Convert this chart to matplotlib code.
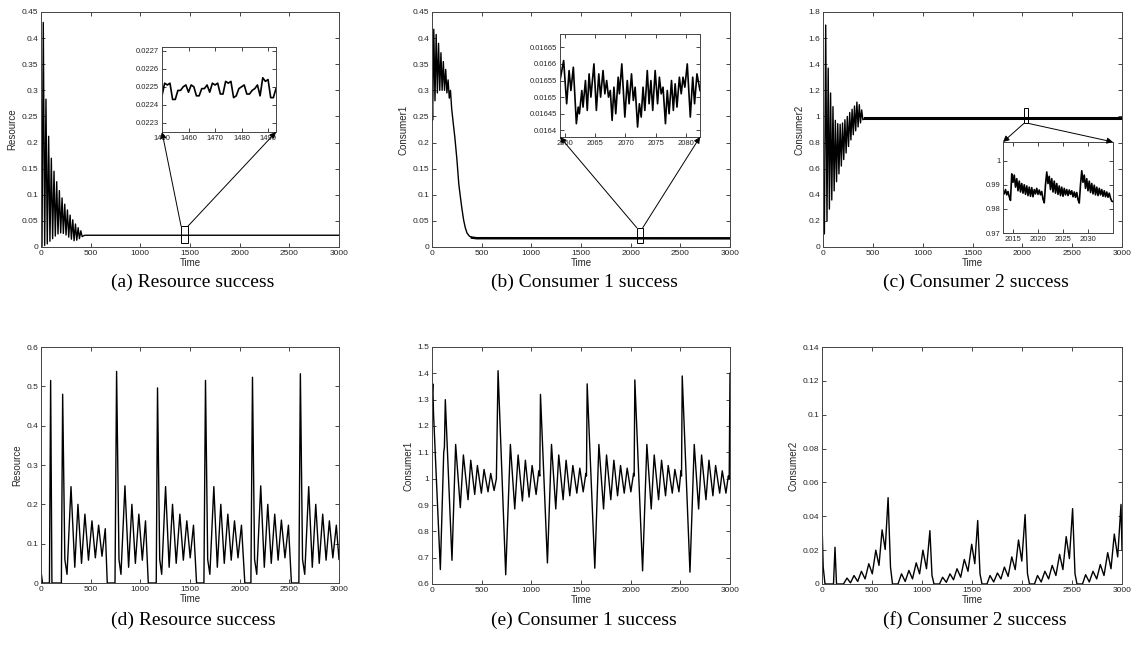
import numpy as np
import matplotlib
matplotlib.use("Agg")
import matplotlib.pyplot as plt
from matplotlib.patches import Rectangle, ConnectionPatch
from matplotlib.ticker import FuncFormatter

W, H = 1133, 656

# ---------------- data ----------------
time_ticks = [0, 500, 1000, 1500, 2000, 2500, 3000]

# (a) resource, transient then steady state
a_time = [0, 10, 23, 37, 50, 63, 77, 90, 104, 117, 131, 144, 158, 171, 185, 198,
          212, 225, 239, 252, 266, 279, 293, 306, 320, 333, 347, 360, 374, 387,
          401, 414, 440, 3000]
a_value = [0.0, 0.001, 0.43, 0.003, 0.283, 0.006, 0.212, 0.011, 0.170, 0.016,
           0.145, 0.021, 0.125, 0.025, 0.108, 0.027, 0.094, 0.026, 0.082, 0.023,
           0.071, 0.019, 0.061, 0.015, 0.052, 0.012, 0.044, 0.013, 0.037, 0.016,
           0.031, 0.02, 0.0225, 0.0225]
a_yticks = [0, 0.05, 0.1, 0.15, 0.2, 0.25, 0.3, 0.35, 0.4, 0.45]
a_zoom_start = 1450
a_zoom_value = [0.02245, 0.02252, 0.02251, 0.02252, 0.02243, 0.02243, 0.02248,
                0.02248, 0.0225, 0.02251, 0.02247, 0.02251, 0.0225, 0.02245,
                0.02245, 0.02249, 0.02249, 0.02251, 0.02247, 0.02252, 0.02251,
                0.02252, 0.02246, 0.02246, 0.02253, 0.02252, 0.02253, 0.02244,
                0.02245, 0.02249, 0.0225, 0.02251, 0.02246, 0.02246, 0.02248,
                0.02249, 0.02251, 0.02245, 0.02255, 0.02253, 0.02254, 0.02244,
                0.02244, 0.02249]
a_zoom_xticks = [1450, 1460, 1470, 1480, 1490]
a_zoom_yticks = [0.0223, 0.0224, 0.0225, 0.0226, 0.0227]

# (b) consumer 1
b_time = [0, 6, 18, 30, 42, 54, 66, 78, 90, 102, 114, 126, 138, 150, 162, 174,
          186, 198, 215, 230, 251, 270, 285, 300, 318, 335, 352, 375, 402, 450, 3000]
b_value = [0.30, 0.243, 0.417, 0.28, 0.407, 0.295, 0.39, 0.30, 0.372, 0.30, 0.355,
           0.30, 0.34, 0.295, 0.32, 0.285, 0.30, 0.265,
           0.235, 0.21, 0.167, 0.12, 0.097, 0.075, 0.052, 0.037, 0.027, 0.021,
           0.018, 0.0168, 0.0166]
b_zoom_time = [2059.2, 2059.8, 2060.3, 2060.7, 2061.0, 2061.4, 2061.9, 2062.2,
               2062.4, 2062.8, 2063.0, 2063.4, 2063.7, 2064.0, 2064.3, 2064.8,
               2065.2, 2065.6, 2065.9, 2066.3, 2066.6, 2066.9, 2067.2, 2067.5,
               2067.8, 2068.1, 2068.4, 2068.8, 2069.0, 2069.4, 2069.9, 2070.3,
               2070.6, 2071.0, 2071.3, 2071.6, 2072.0, 2072.3, 2072.6, 2072.9,
               2073.2, 2073.6, 2073.9, 2074.2, 2074.5, 2074.9, 2075.3, 2075.6,
               2075.9, 2076.2, 2076.6, 2076.9, 2077.2, 2077.6, 2077.9, 2078.2,
               2078.5, 2078.9, 2079.2, 2079.5, 2079.8, 2080.2, 2080.7, 2081.1,
               2081.4, 2081.8, 2082.3]
b_zoom_value = [0.01655, 0.01661, 0.01648, 0.01658, 0.01652, 0.01659, 0.01642,
                0.01647, 0.01645, 0.01652, 0.01647, 0.01655, 0.01646, 0.01657,
                0.0165, 0.0166, 0.01646, 0.01657, 0.0165, 0.01658, 0.01651,
                0.01655, 0.0165, 0.01652, 0.01643, 0.01653, 0.01645, 0.01656,
                0.01651, 0.0166, 0.01644, 0.01655, 0.01648, 0.01657, 0.01649,
                0.01653, 0.01641, 0.01648, 0.01644, 0.01653, 0.01646, 0.01658,
                0.01648, 0.01655, 0.01646, 0.01658, 0.01648, 0.01656, 0.01651,
                0.01653, 0.01642, 0.01652, 0.01645, 0.01655, 0.01646, 0.01654,
                0.01647, 0.01656, 0.01651, 0.01656, 0.01653, 0.0166, 0.01644,
                0.01656, 0.01648, 0.01657, 0.01652]
b_zoom_xticks = [2060, 2065, 2070, 2075, 2080]
b_zoom_yticks = [0.0164, 0.01645, 0.0165, 0.01655, 0.0166, 0.01665]

# (c) consumer 2
c_time = [0, 14, 27, 40, 52, 64, 76, 88, 100, 112, 124, 136, 148, 160, 172, 184,
          196, 208, 220, 232, 244, 256, 268, 280, 292, 304, 316, 328, 340, 352,
          364, 376, 388, 400, 420, 3000]
c_value = [0.25, 0.10, 1.70, 0.20, 1.37, 0.29, 1.18, 0.36, 1.075, 0.43, 0.97, 0.50,
           0.945, 0.56, 0.94, 0.62, 0.95, 0.67, 0.975, 0.72, 1.0, 0.77, 1.03, 0.82,
           1.055, 0.86, 1.08, 0.89, 1.11, 0.92, 1.09, 0.95, 1.05, 0.975, 0.985, 0.985]
c_yticks = [0, 0.2, 0.4, 0.6, 0.8, 1, 1.2, 1.4, 1.6, 1.8]
c_zoom_start = 2013
c_zoom_value = [0.9875, 0.9862, 0.9880, 0.9858, 0.9872, 0.9850, 0.9835,
                0.9945, 0.9910, 0.9940, 0.9890, 0.9925, 0.9875, 0.9915, 0.9870,
                0.9905, 0.9865, 0.9900, 0.9860, 0.9895, 0.9855, 0.9890, 0.9852,
                0.9888, 0.9850, 0.9880, 0.9862, 0.9885, 0.9860, 0.9878, 0.9858,
                0.9872, 0.9840, 0.9825, 0.9900, 0.9953, 0.9905, 0.9935, 0.9880,
                0.9925, 0.9870, 0.9915, 0.9865, 0.9905, 0.9860, 0.9895, 0.9855,
                0.9890, 0.9852, 0.9885, 0.9858, 0.9880, 0.9855, 0.9878, 0.9860,
                0.9875, 0.9850, 0.9870, 0.9848, 0.9868, 0.9838, 0.9824, 0.9900,
                0.9958, 0.9910, 0.9940, 0.9885, 0.9925, 0.9875, 0.9915, 0.9868,
                0.9905, 0.9862, 0.9898, 0.9858, 0.9890, 0.9855, 0.9885, 0.9858,
                0.9880, 0.9852, 0.9875, 0.9850, 0.9870, 0.9848, 0.9865, 0.9845,
                0.9832, 0.9830]
c_zoom_xticks = [2015, 2020, 2025, 2030]
c_zoom_yticks = [0.97, 0.98, 0.99, 1]

# (d) resource, periodic regime
d_time = [0, 15, 85, 97, 110, 205,
          218, 240, 262, 302, 340, 372, 408, 442, 478, 513, 547, 580, 614, 647, 667,
          745, 761, 785, 805, 845, 882, 915, 950, 985, 1020, 1052, 1080,
          1160, 1173, 1195, 1215, 1254, 1290, 1324, 1361, 1398, 1433, 1468, 1502, 1535, 1566,
          1640, 1656, 1678, 1700, 1740, 1775, 1810, 1845, 1881, 1915, 1948, 1983, 2018, 2052,
          2113, 2129, 2150, 2172, 2212, 2248, 2283, 2318, 2353, 2387, 2420, 2456, 2491, 2521,
          2596, 2611, 2633, 2655, 2695, 2731, 2766, 2801, 2836, 2870, 2903, 2938, 2973, 3000]
d_value = [0.03, 0.0, 0.0, 0.515, 0.0, 0.0,
           0.48, 0.06, 0.022, 0.245, 0.04, 0.2, 0.05, 0.175, 0.058, 0.158, 0.064, 0.147, 0.068, 0.138, 0.0,
           0.0, 0.538, 0.06, 0.022, 0.247, 0.04, 0.2, 0.05, 0.175, 0.058, 0.158, 0.0,
           0.0, 0.496, 0.06, 0.022, 0.245, 0.04, 0.2, 0.05, 0.175, 0.058, 0.158, 0.064, 0.147, 0.0,
           0.0, 0.515, 0.06, 0.022, 0.245, 0.04, 0.2, 0.05, 0.175, 0.058, 0.158, 0.064, 0.147, 0.0,
           0.0, 0.523, 0.06, 0.022, 0.247, 0.04, 0.2, 0.05, 0.175, 0.058, 0.16, 0.064, 0.147, 0.0,
           0.0, 0.532, 0.06, 0.022, 0.245, 0.04, 0.2, 0.05, 0.175, 0.058, 0.158, 0.064, 0.147, 0.06]
d_yticks = [0, 0.1, 0.2, 0.3, 0.4, 0.5, 0.6]

# (e) consumer 1, periodic regime
e_time = [0, 8, 15, 84, 118, 125, 134, 201,
          238, 285, 316, 363, 390, 430, 457, 497, 524, 564, 591, 625, 648, 665,
          742, 789, 833, 867, 910, 940, 977, 1008, 1048, 1075, 1085, 1092,
          1162, 1203, 1246, 1276, 1320, 1350, 1387, 1418, 1458, 1488, 1522, 1549, 1555, 1562,
          1639, 1680, 1727, 1757, 1800, 1831, 1868, 1898, 1935, 1965, 2002, 2029, 2035, 2042,
          2120, 2163, 2207, 2237, 2281, 2311, 2351, 2378, 2419, 2445, 2486, 2506, 2512, 2519,
          2597, 2640, 2684, 2714, 2758, 2788, 2828, 2855, 2896, 2922, 2959, 2983, 2992, 3000]
e_value = [1.30, 1.36, 1.25, 0.655, 1.10, 1.12, 1.30, 0.69,
           1.13, 0.89, 1.09, 0.92, 1.07, 0.94, 1.05, 0.945, 1.035, 0.95, 1.02, 0.955, 1.0, 1.41,
           0.635, 1.13, 0.885, 1.09, 0.915, 1.07, 0.93, 1.05, 0.94, 1.03, 1.01, 1.32,
           0.68, 1.13, 0.885, 1.09, 0.92, 1.07, 0.935, 1.05, 0.945, 1.04, 0.95, 1.02, 1.01, 1.36,
           0.66, 1.13, 0.885, 1.09, 0.92, 1.07, 0.935, 1.05, 0.945, 1.04, 0.95, 1.02, 1.01, 1.375,
           0.65, 1.13, 0.885, 1.09, 0.92, 1.07, 0.935, 1.05, 0.945, 1.035, 0.95, 1.03, 1.01, 1.39,
           0.645, 1.13, 0.885, 1.09, 0.92, 1.07, 0.935, 1.05, 0.945, 1.03, 0.945, 1.01, 1.0, 1.4]
e_yticks = [0.6, 0.7, 0.8, 0.9, 1, 1.1, 1.2, 1.3, 1.4, 1.5]

# (f) consumer 2, periodic regime
f_time = [0, 12, 30, 115, 130, 145, 215,
          250, 285, 320, 357, 394, 431, 468, 503, 538, 570, 601, 632, 661, 685, 705,
          760, 795, 832, 869, 905, 942, 976, 1009, 1045, 1079, 1100, 1120,
          1175, 1206, 1243, 1280, 1315, 1350, 1387, 1423, 1460, 1497, 1528, 1557, 1580, 1600,
          1650, 1680, 1717, 1754, 1789, 1824, 1861, 1898, 1932, 1965, 1998, 2031, 2055, 2075,
          2125, 2155, 2192, 2229, 2266, 2302, 2339, 2376, 2409, 2442, 2474, 2506, 2530, 2550,
          2605, 2636, 2673, 2710, 2747, 2783, 2820, 2857, 2890, 2923, 2957, 2990, 3000]
f_value = [0.036, 0.01, 0.0, 0.0, 0.0217, 0.0, 0.0,
           0.0035, 0.0007, 0.005, 0.0015, 0.0075, 0.003, 0.012, 0.006, 0.02, 0.011, 0.032, 0.0204, 0.051, 0.01, 0.0,
           0.0, 0.006, 0.0015, 0.008, 0.003, 0.0125, 0.006, 0.02, 0.009, 0.0315, 0.005, 0.0,
           0.0, 0.004, 0.001, 0.006, 0.0025, 0.009, 0.004, 0.0145, 0.0075, 0.0235, 0.012, 0.0375, 0.006, 0.0,
           0.0, 0.005, 0.0012, 0.0065, 0.003, 0.010, 0.0045, 0.016, 0.0085, 0.026, 0.0135, 0.041, 0.006, 0.0,
           0.0, 0.005, 0.0012, 0.0075, 0.003, 0.011, 0.005, 0.0175, 0.0085, 0.028, 0.015, 0.0445, 0.006, 0.0,
           0.0, 0.0055, 0.0012, 0.0075, 0.003, 0.0115, 0.005, 0.0185, 0.009, 0.0295, 0.016, 0.047, 0.02]
f_yticks = [0, 0.02, 0.04, 0.06, 0.08, 0.1, 0.12, 0.14]

captions = ["(a) Resource success", "(b) Consumer 1 success", "(c) Consumer 2 success",
            "(d) Resource success", "(e) Consumer 1 success", "(f) Consumer 2 success"]

# ---------------- helpers ----------------
TXT = "#262626"
SANS = "Liberation Sans"


def px_rect(x0, x1, y0, y1):
    # pixel box (left, right, top, bottom) -> figure fraction
    return [x0 / W, 1 - y1 / H, (x1 - x0) / W, (y1 - y0) / H]


def style_axes(ax, size=6):
    ax.tick_params(direction="in", top=True, right=True, length=3, width=0.6,
                   colors=TXT, labelsize=size, pad=2)
    for lab in ax.get_xticklabels() + ax.get_yticklabels():
        lab.set_family(SANS)
    for s in ax.spines.values():
        s.set_color("#444444")
        s.set_linewidth(0.7)
    fmt = FuncFormatter(lambda v, p: f"{v:g}")
    ax.xaxis.set_major_formatter(fmt)
    ax.yaxis.set_major_formatter(fmt)


def main_panel(box, t, v, ylim, yticks, ylabel, caption, cap_y):
    ax = fig.add_axes(px_rect(*box))
    ax.plot(t, v, color="k", lw=1.0)
    ax.set_xlim(0, 3000)
    ax.set_xticks(time_ticks)
    ax.set_ylim(*ylim)
    ax.set_yticks(yticks)
    style_axes(ax)
    ax.set_xlabel("Time", fontsize=7, family=SANS, color=TXT, labelpad=1)
    ax.set_ylabel(ylabel, fontsize=7, family=SANS, color=TXT, labelpad=3)
    cx = (box[0] + box[1]) / 2 + 3
    fig.text(cx / W, 1 - cap_y / H, caption, ha="center", va="center",
             fontsize=14, family="Liberation Serif", color="k")
    return ax


def inset(box, t, v, xlim, ylim, xticks, yticks):
    ins = fig.add_axes(px_rect(*box))
    ins.plot(t, v, color="k", lw=1.2)
    ins.set_xlim(*xlim)
    ins.set_ylim(*ylim)
    ins.set_xticks(xticks)
    ins.set_yticks(yticks)
    style_axes(ins, size=5.5)
    return ins


def link(ax, ins, rect, pairs):
    x0, x1, y0, y1 = rect
    ax.add_patch(Rectangle((x0, y0), x1 - x0, y1 - y0, fill=False,
                           edgecolor="k", lw=0.7, zorder=5))
    for (xa, ya), (xb, yb) in pairs:
        con = ConnectionPatch(xyA=(xa, ya), coordsA=ax.transData,
                              xyB=(xb, yb), coordsB=ins.transAxes,
                              arrowstyle="-|>", mutation_scale=9,
                              color="k", lw=0.7, shrinkA=0, shrinkB=0)
        fig.add_artist(con)


# ---------------- figure ----------------
fig = plt.figure(figsize=(W / 100, H / 100), dpi=100)

ax_a = main_panel((41, 339, 12, 247), a_time, a_value, (0, 0.45), a_yticks,
                  "Resource", captions[0], 282)
ax_b = main_panel((432, 730, 12, 247), b_time, b_value, (0, 0.45), a_yticks,
                  "Consumer1", captions[1], 282)
ax_b.plot(b_time[-3:], b_value[-3:], color="k", lw=1.8)
ax_c = main_panel((823, 1122, 12, 247), c_time, c_value, (0, 1.8), c_yticks,
                  "Consumer2", captions[2], 282)
ax_c.plot(c_time[-2:], c_value[-2:], color="k", lw=2.2)

main_panel((41, 339, 347, 583), d_time, d_value, (0, 0.6), d_yticks,
           "Resource", captions[3], 620)
main_panel((432, 730, 347, 584), e_time, e_value, (0.6, 1.5), e_yticks,
           "Consumer1", captions[4], 620)
main_panel((822, 1122, 347, 584), f_time, f_value, (0, 0.14), f_yticks,
           "Consumer2", captions[5], 620)

# zoomed insets
a_zt = a_zoom_start + np.arange(len(a_zoom_value))
in_a = inset((162, 276, 47, 132), a_zt, a_zoom_value, (1450, 1493),
             (0.02225, 0.02272), a_zoom_xticks, a_zoom_yticks)
link(ax_a, in_a, (1410, 1480, 0.008, 0.040),
     [((1410, 0.040), (0, 0)), ((1480, 0.040), (1, 0))])

in_b = inset((560, 700, 34, 137), b_zoom_time, b_zoom_value, (2059.2, 2082.3),
             (0.01638, 0.01669), b_zoom_xticks, b_zoom_yticks)
link(ax_b, in_b, (2061, 2122, 0.007, 0.037),
     [((2061, 0.037), (0, 0)), ((2122, 0.037), (1, 0))])

c_zt = c_zoom_start + 0.25 * np.arange(len(c_zoom_value))
in_c = inset((1003, 1113, 142, 233), c_zt, c_zoom_value, (2013, 2035),
             (0.97, 1.0077), c_zoom_xticks, c_zoom_yticks)
link(ax_c, in_c, (2016, 2059, 0.947, 1.062),
     [((2016, 0.947), (0, 1)), ((2059, 0.947), (1, 1))])

fig.savefig("out.png", dpi=100)
